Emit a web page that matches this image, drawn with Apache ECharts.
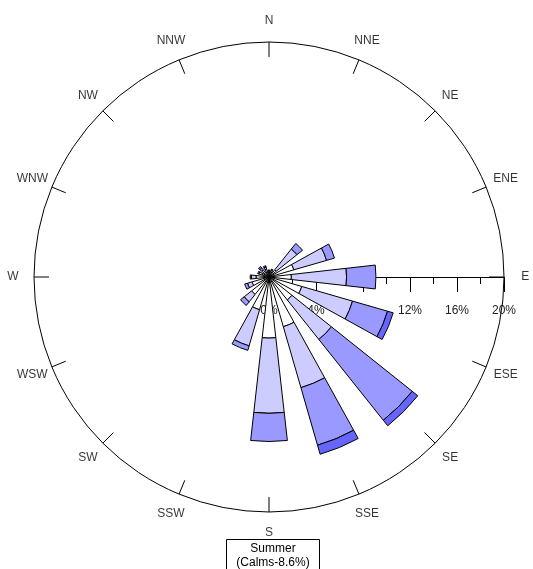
<!DOCTYPE html>
<html>
<head>
<meta charset="utf-8">
<script src="https://cdn.jsdelivr.net/npm/echarts@6/dist/echarts.min.js"></script>
<style>
  html, body { margin: 0; padding: 0; background: #fff; }
  #chart { width: 533px; height: 569px; }
</style>
</head>
<body>
<div id="chart"></div>
<script>
// Wind directions, clockwise from north
const directions = ['N', 'NNE', 'NE', 'ENE', 'E', 'ESE', 'SE', 'SSE',
                    'S', 'SSW', 'SW', 'WSW', 'W', 'WNW', 'NW', 'NNW'];

// Frequency (%) of each wind-speed class per direction
const speedBins = ['0 to 2', '2 to 4', '4 to 6', '6 to 10'];
const bin1 = [0.3, 0.3, 0.8, 2.2, 1.9, 2.9, 2.5, 4.4, 5.2, 2.9, 1.9, 1.5, 1.1, 0.6, 0.5, 0.4];
const bin2 = [0.2, 0.3, 2.25, 2.9, 4.7, 4.5, 4.3, 5.4, 6.4, 3.2, 0.8, 0.4, 0.4, 0.3, 0.3, 0.3];
const bin3 = [0.1, 0.1, 0.6, 0.7, 2.5, 3.1, 8.8, 5.1, 2.4, 0.4, 0.4, 0.25, 0.1, 0.1, 0.2, 0.2];
const bin4 = [0, 0, 0, 0, 0, 0.5, 0.6, 0.8, 0, 0, 0, 0, 0, 0, 0.15, 0.1];

// Radial scale tick labels
const radialTicks = [0, 4, 8, 12, 16, 20];

const seasonLabel = 'Summer';
const calms = 8.6;

const binValues = [bin1, bin2, bin3, bin4];
const binColors = ['#ffffff', '#ccccff', '#9999ff', '#6666ff'];

const cx = 269, cy = 277, R = 235;
const FONT = 'Liberation Sans, Arial, Helvetica, sans-serif';
const step = 360 / directions.length;
const start = 90 + step / 2;       // put the first category centred on north
const rMax = radialTicks[radialTicks.length - 1];

const chart = echarts.init(document.getElementById('chart'), null, { renderer: 'canvas' });

const barSeries = binValues.map((vals, k) => ({
  name: speedBins[k],
  type: 'bar',
  coordinateSystem: 'polar',
  polarIndex: 0,
  stack: 'freq',
  barWidth: '57%',
  z: 3,
  silent: true,
  data: vals.map(v => (v > 0 ? v : '-')),
  itemStyle: { color: binColors[k], borderColor: '#000', borderWidth: 1 }
}));

chart.setOption({
  animation: false,
  textStyle: { fontFamily: FONT },
  title: {
    text: seasonLabel + '\n(Calms-' + calms + '%)',
    left: 263,
    top: 539,
    textAlign: 'center',
    padding: [3, 10, 4, 10],
    borderColor: '#000',
    borderWidth: 1,
    textStyle: { fontFamily: FONT, fontSize: 12, fontWeight: 'normal', color: '#000', lineHeight: 14 }
  },
  polar: [
    { center: [cx, cy], radius: R },
    { center: [cx, cy], radius: R * 21.8 / 20 }
  ],
  angleAxis: [
    {
      polarIndex: 0,
      type: 'category',
      data: directions,
      startAngle: start,
      clockwise: true,
      boundaryGap: true,
      axisLine: { show: true, lineStyle: { color: '#000', width: 1 } },
      axisTick: { show: true, inside: true, length: 15, alignWithLabel: true,
                  lineStyle: { color: '#000', width: 1 } },
      axisLabel: { show: false },
      splitLine: { show: false },
      z: 1
    },
    {
      polarIndex: 1,
      type: 'category',
      data: directions,
      startAngle: start,
      clockwise: true,
      boundaryGap: true,
      show: false
    }
  ],
  radiusAxis: [
    { polarIndex: 0, type: 'value', min: 0, max: rMax, show: false },
    { polarIndex: 1, type: 'value', min: 0, max: 1, show: false }
  ],
  // Straight radial scale drawn to the east
  grid: { left: cx, top: cy - 100, width: R, height: 100, containLabel: false },
  xAxis: {
    type: 'value',
    min: 0,
    max: rMax,
    interval: radialTicks[1] - radialTicks[0],
    z: 0,
    axisLine: { show: true, lineStyle: { color: '#000', width: 1 } },
    axisTick: { show: true, length: 15, lineStyle: { color: '#000', width: 1 } },
    minorTick: { show: true, splitNumber: 2, length: 7, lineStyle: { color: '#000', width: 1 } },
    splitLine: { show: false },
    axisLabel: {
      show: true, margin: 28, color: '#222', fontSize: 12, fontFamily: FONT,
      showMinLabel: true, showMaxLabel: true,
      formatter: v => (radialTicks.includes(v) ? v + '%' : '')
    }
  },
  yAxis: { type: 'value', show: false, min: 0, max: 1 },
  series: [
    ...barSeries,
    {
      type: 'scatter',
      coordinateSystem: 'polar',
      polarIndex: 1,
      silent: true,
      symbolSize: 1,
      itemStyle: { color: 'rgba(0,0,0,0)' },
      z: 4,
      data: directions.map((d, i) => ({ name: d, value: [1, i] })),
      label: {
        show: true,
        position: 'inside',
        formatter: p => p.name,
        color: '#000',
        fontSize: 12,
        fontFamily: FONT
      }
    }
  ]
});
</script>
</body>
</html>
